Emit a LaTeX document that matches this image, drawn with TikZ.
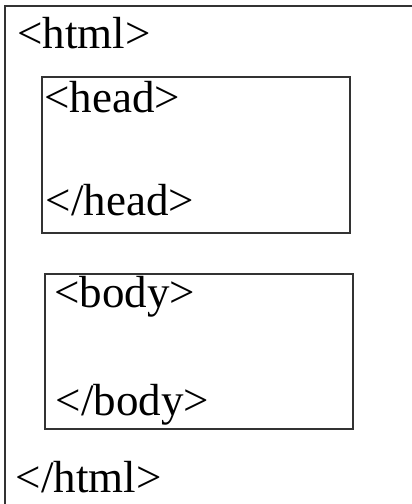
\documentclass[tikz,border=0pt]{standalone}
\usepackage{fontspec}
\setmainfont{Liberation Serif}
\begin{document}
\begin{tikzpicture}[x=1pt,y=-1pt,
  boxline/.style={draw=black!80, line width=1.8pt},
  tag/.style={anchor=base west, inner sep=0pt, font=\fontsize{45}{54}\selectfont}]
\useasboundingbox (0,0) rectangle (412,504);
\fill[white] (0,0) rectangle (412,504);
\coordinate (outerTR) at (412,6);
\coordinate (outerBL) at (5,504);
\draw[boxline, line cap=rect] (outerTR) -- (5,6) -- (outerBL);
\node[boxline, anchor=north west, inner sep=0pt, minimum width=308pt, minimum height=156pt] (head) at (40.7,76) {};
\node[boxline, anchor=north west, inner sep=0pt, minimum width=308.6pt, minimum height=155.3pt] (body) at (43.7,273) {};
\node[tag] (htmlopen) at (17,48) {<html>};
\node[tag] (headopen) at (44,112.7) {<head>};
\node[tag] (headclose) at (45.5,215.7) {</head>};
\node[tag] (bodyopen) at (54,307.3) {<body>};
\node[tag] (bodyclose) at (55.5,415) {</body>};
\node[tag] (htmlclose) at (15.5,492.7) {</html>};
\end{tikzpicture}
\end{document}
